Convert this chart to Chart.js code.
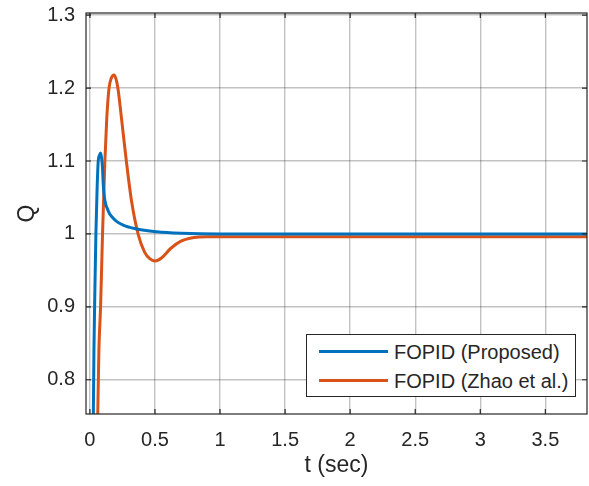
<!DOCTYPE html>
<html>
<head>
<meta charset="utf-8">
<script src="https://cdn.jsdelivr.net/npm/chart.js@4"></script>
<style>
    body { margin: 0; background: #fff; }
    #wrap { position: relative; width: 589px; height: 486px; }
    #legend {
        position: absolute; left: 306px; top: 334px; width: 268px; height: 61px;
        border: 1px solid #262626; background: #fff;
        font-family: "Liberation Sans", Arial, sans-serif; font-size: 20px; color: #262626;
    }
    .row { position: absolute; left: 0; height: 24px; line-height: 24px; }
    .sample { position: absolute; left: 12px; top: 10px; width: 69px; height: 3px; }
    .txt { position: absolute; left: 87px; top: 0; white-space: nowrap; }
</style>
</head>
<body>
<div id="wrap">
    <canvas id="qChart"></canvas>
    <div id="legend"></div>
</div>
<script>
// --- DADOS ---
const xTicks = [0, 0.5, 1, 1.5, 2, 2.5, 3, 3.5];
const yTicks = [0.8, 0.9, 1, 1.1, 1.2, 1.3];
const seriesNames = ['FOPID (Proposed)', 'FOPID (Zhao et al.)'];

const tProposed = [0.025, 0.031, 0.038, 0.046, 0.055, 0.064, 0.074, 0.082, 0.090, 0.097, 0.102, 0.110, 0.120, 0.133, 0.150, 0.167, 0.200, 0.256, 0.350, 0.513, 0.700, 1.000, 2.000, 3.000, 3.850];
const qProposed = [0.72, 0.84, 0.92, 1.00, 1.06, 1.10, 1.108, 1.111, 1.104, 1.090, 1.070, 1.052, 1.042, 1.035, 1.028, 1.024, 1.018, 1.012, 1.007, 1.003, 1.001, 1.000, 1.000, 1.000, 1.000];

const tZhao = [0.050, 0.060, 0.069, 0.082, 0.097, 0.115, 0.130, 0.147, 0.165, 0.185, 0.200, 0.215, 0.245, 0.280, 0.320, 0.370, 0.420, 0.460, 0.500, 0.550, 0.620, 0.700, 0.800, 0.900, 1.000, 1.500, 2.000, 3.000, 3.850];
const qZhao = [0.62, 0.75, 0.84, 0.90, 1.00, 1.10, 1.16, 1.20, 1.214, 1.218, 1.213, 1.200, 1.155, 1.100, 1.045, 1.000, 0.975, 0.966, 0.963, 0.967, 0.980, 0.990, 0.995, 0.996, 0.996, 0.996, 0.996, 0.996, 0.996];

const colors = ['#0072BD', '#D95319'];

const toPoints = (ts, qs) => ts.map((t, i) => ({ x: t, y: qs[i] }));

// bordas e marcas de escala para dentro (estilo MATLAB)
const boxTicks = {
    id: 'boxTicks',
    afterDraw(chart) {
        const { ctx, chartArea: a, scales: { x, y } } = chart;
        const len = 5;
        ctx.save();
        ctx.strokeStyle = '#262626';
        ctx.lineWidth = 1.2;
        ctx.strokeRect(a.left, a.top, a.right - a.left, a.bottom - a.top);
        ctx.beginPath();
        xTicks.forEach(v => {
            const px = x.getPixelForValue(v);
            ctx.moveTo(px, a.bottom); ctx.lineTo(px, a.bottom - len);
            ctx.moveTo(px, a.top); ctx.lineTo(px, a.top + len);
        });
        yTicks.forEach(v => {
            const py = y.getPixelForValue(v);
            ctx.moveTo(a.left, py); ctx.lineTo(a.left + len, py);
            ctx.moveTo(a.right, py); ctx.lineTo(a.right - len, py);
        });
        ctx.stroke();
        ctx.restore();
    }
};

const font = { family: '"Liberation Sans", Arial, sans-serif', size: 20 };
const titleFont = { family: '"Liberation Sans", Arial, sans-serif', size: 23 };

const ctx = document.getElementById('qChart').getContext('2d');
new Chart(ctx, {
    type: 'line',
    data: {
        datasets: [{
            label: seriesNames[0],
            data: toPoints(tProposed, qProposed),
            borderColor: colors[0],
            borderWidth: 3,
            pointRadius: 0,
            cubicInterpolationMode: 'monotone'
        }, {
            label: seriesNames[1],
            data: toPoints(tZhao, qZhao),
            borderColor: colors[1],
            borderWidth: 3,
            pointRadius: 0,
            cubicInterpolationMode: 'monotone'
        }]
    },
    options: {
        responsive: true,
        maintainAspectRatio: false,
        animation: false,
        layout: { padding: { top: 13, right: 2, left: 0, bottom: 0 } },
        scales: {
            x: {
                type: 'linear',
                min: -0.03,
                max: 3.82,
                afterFit: s => { s.height = 72; s.paddingLeft = 0; s.paddingRight = 0; },
                ticks: {
                    stepSize: 0.5,
                    includeBounds: false,
                    color: '#262626',
                    font: font,
                    padding: 14,
                    maxRotation: 0,
                    callback: v => String(+v.toFixed(2))
                },
                grid: { color: 'rgba(0,0,0,0.24)', lineWidth: 1.4, drawTicks: false },
                border: { display: false },
                title: { display: true, text: 't (sec)', color: '#262626', font: titleFont, padding: { top: 0, bottom: 7 } }
            },
            y: {
                min: 0.753,
                max: 1.303,
                afterFit: s => { s.width = 86; s.paddingTop = 0; s.paddingBottom = 0; },
                ticks: {
                    stepSize: 0.1,
                    includeBounds: false,
                    color: '#262626',
                    font: font,
                    padding: 11,
                    callback: v => String(+v.toFixed(2))
                },
                grid: { color: 'rgba(0,0,0,0.24)', lineWidth: 1.4, drawTicks: false },
                border: { display: false },
                title: { display: true, text: 'Q', color: '#262626', font: titleFont, padding: { top: 14, bottom: 0 } }
            }
        },
        plugins: {
            legend: { display: false },
            tooltip: { enabled: false }
        }
    },
    plugins: [boxTicks]
});

// legenda dentro do gráfico
const legend = document.getElementById('legend');
seriesNames.forEach((name, i) => {
    const row = document.createElement('div');
    row.className = 'row';
    row.style.top = (i === 0 ? 5 : 34) + 'px';
    row.style.width = '100%';
    row.innerHTML = `<span class="sample" style="background:${colors[i]}"></span><span class="txt">${name}</span>`;
    legend.appendChild(row);
});
</script>
</body>
</html>
